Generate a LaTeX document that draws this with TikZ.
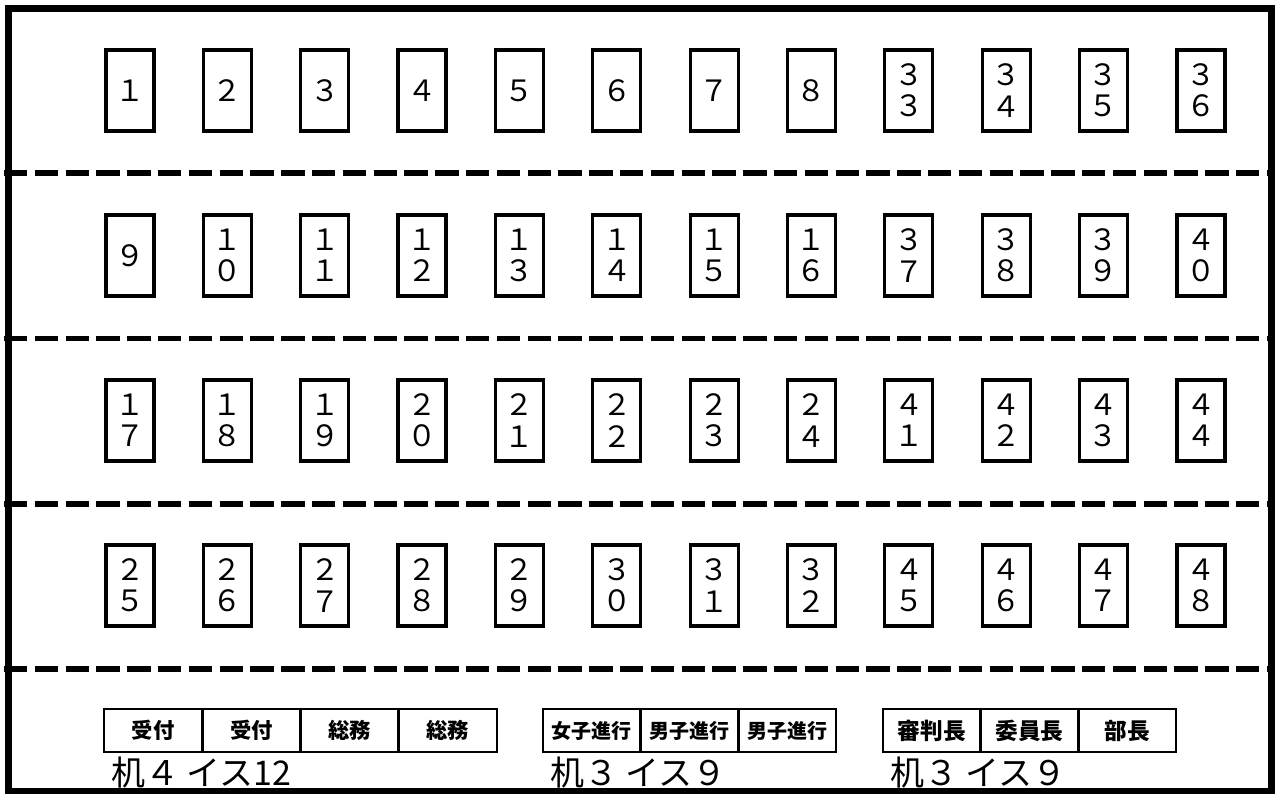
\documentclass[tikz,border=0pt]{standalone}
\usepackage{fontspec}
\setmainfont{Noto Sans CJK JP}
\begin{document}
\begin{tikzpicture}[x=0.75pt,y=-0.75pt,
  seat/.style={draw,line width=2.4pt,minimum width=36pt,minimum height=60.75pt,inner sep=0pt,align=center,
    font=\fontsize{22}{23.5}\selectfont},
  cell/.style={draw,line width=2.2pt,minimum width=73.25pt,minimum height=32.25pt,inner sep=0pt,
    font=\fontsize{15}{18}\selectfont\bfseries},
  cellA/.style={cell,minimum width=73.69pt,font=\fontsize{16}{18}\selectfont\bfseries},
  cellC/.style={cell,font=\fontsize{17}{18}\selectfont\bfseries},
  sep/.style={line width=4.3pt,dash pattern=on 17.5pt off 5.6pt},
  frame/.style={line width=5.25pt},
  lbl/.style={anchor=base west,inner sep=0pt,font=\fontsize{25.5}{28}\selectfont}]
\useasboundingbox (0,0) rectangle (1275,793);
% separators
\foreach \y in {173,338.5,504,669}
  \draw[sep] (4,\y) -- (1272,\y);
% frame
\draw[frame] (8.5,8) rectangle (1271.5,791.5);
% seats
\foreach \t [count=\i from 0] in {１,２,３,４,５,６,７,８,{３\\３},{３\\４},{３\\５},{３\\６}}
  \node[seat] (a\i) at ({130+97.36*\i},90.5) {\t};
\foreach \t [count=\i from 0] in {９,{１\\０},{１\\１},{１\\２},{１\\３},{１\\４},{１\\５},{１\\６},{３\\７},{３\\８},{３\\９},{４\\０}}
  \node[seat] (b\i) at ({130+97.36*\i},255.5) {\t};
\foreach \t [count=\i from 0] in {{１\\７},{１\\８},{１\\９},{２\\０},{２\\１},{２\\２},{２\\３},{２\\４},{４\\１},{４\\２},{４\\３},{４\\４}}
  \node[seat] (c\i) at ({130+97.36*\i},420.5) {\t};
\foreach \t [count=\i from 0] in {{２\\５},{２\\６},{２\\７},{２\\８},{２\\９},{３\\０},{３\\１},{３\\２},{４\\５},{４\\６},{４\\７},{４\\８}}
  \node[seat] (d\i) at ({130+97.36*\i},585.5) {\t};
% tables
\foreach \t [count=\i from 0] in {受付,受付,総務,総務}
  \node[cellA] (t1\i) at ({153.125+98.25*\i},730.5) {\t};
\foreach \t [count=\i from 0] in {女子進行,男子進行,男子進行}
  \node[cell] (t2\i) at ({591.83+97.67*\i},730.5) {\t};
\foreach \t [count=\i from 0] in {審判長,委員長,部長}
  \node[cellC] (t3\i) at ({931.83+97.67*\i},730.5) {\t};
% labels
\node[lbl] (l1) at (111,785) {机４ イス12};
\node[lbl] (l2) at (550,785) {机３ イス９};
\node[lbl] (l3) at (890,785) {机３ イス９};
\end{tikzpicture}
\end{document}
